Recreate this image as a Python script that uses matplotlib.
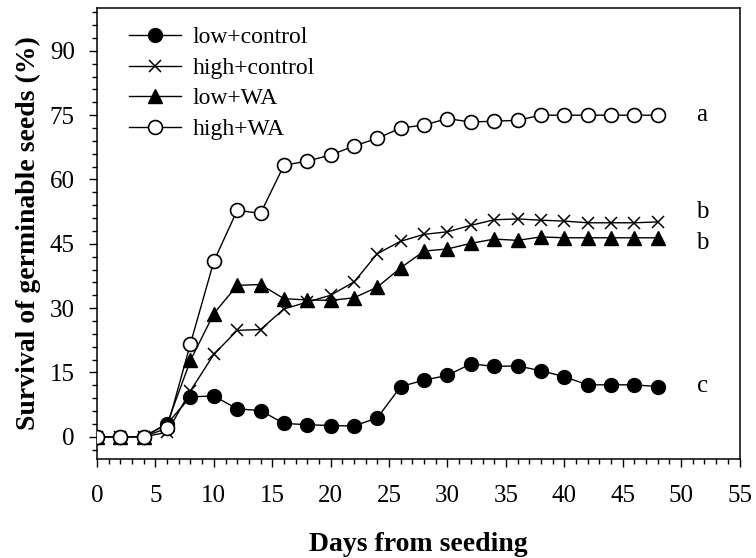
import matplotlib
matplotlib.use("Agg")
import matplotlib.pyplot as plt
from matplotlib.ticker import MultipleLocator

plt.rcParams['font.family'] = ['Liberation Serif', 'DejaVu Serif']

days = [0, 2, 4, 6, 8, 10, 12, 14, 16, 18, 20, 22, 24, 26, 28, 30, 32, 34, 36, 38, 40, 42, 44, 46, 48]

low_control = [0, 0, 0, 3.0, 9.3, 9.5, 6.5, 6.1, 3.1, 2.8, 2.6, 2.5, 4.4, 11.7, 13.2, 14.3,
               17.0, 16.4, 16.5, 15.4, 14.0, 12.1, 12.1, 12.1, 11.7]
high_control = [0, 0, 0, 1.0, 10.7, 19.2, 24.8, 25.0, 29.8, 31.4, 33.0, 36.1, 42.7, 45.6, 47.2, 47.8,
                49.3, 50.6, 50.8, 50.5, 50.3, 49.9, 49.9, 49.9, 50.1]
low_wa = [0, 0, 0, 3.0, 17.8, 28.7, 35.3, 35.5, 32.2, 31.9, 31.8, 32.4, 34.9, 39.4, 43.3, 43.8,
          45.1, 46.1, 45.8, 46.6, 46.4, 46.4, 46.4, 46.4, 46.4]
high_wa = [0, 0, 0, 2.0, 21.7, 40.9, 52.8, 52.1, 63.3, 64.3, 65.7, 67.8, 69.6, 72.0, 72.7, 74.2,
           73.4, 73.6, 73.8, 75.0, 75.0, 75.0, 75.0, 75.0, 75.0]

series_labels = ['low+control', 'high+control', 'low+WA', 'high+WA']
sig_letters = ['c', 'b', 'b', 'a']
sig_y = [11.9, 45.1, 52.4, 75.0]
sig_x = 51.8

fig = plt.figure(figsize=(7.56, 5.58), dpi=100)
ax = fig.add_axes([97/756, (558-459)/558, (739.5-97)/756, (459-8)/558])

lw = 1.0
ax.plot(days, low_control, color='black', lw=lw, marker='o', ms=10,
        mfc='black', mec='black', label=series_labels[0], zorder=3)
ax.plot(days, high_control, color='black', lw=lw, marker='x', ms=8.5, mew=1.1,
        label=series_labels[1], zorder=3)
ax.plot(days, low_wa, color='black', lw=lw, marker='^', ms=10,
        mfc='black', mec='black', label=series_labels[2], zorder=3)
ax.plot(days, high_wa, color='black', lw=lw, marker='o', ms=10,
        mfc='white', mec='black', mew=1.2, label=series_labels[3], zorder=4)

for letter, yv in zip(sig_letters, sig_y):
    ax.text(sig_x, yv, letter, fontsize=18, ha='center', va='center')

ax.set_xlim(0, 55)
ax.set_ylim(-5.2, 100)
ax.xaxis.set_major_locator(MultipleLocator(5))
ax.xaxis.set_minor_locator(MultipleLocator(1))
ax.yaxis.set_major_locator(MultipleLocator(15))
ax.yaxis.set_minor_locator(MultipleLocator(3))
ax.set_yticks([0, 15, 30, 45, 60, 75, 90])

ax.tick_params(which='major', direction='out', length=6, width=1.0, labelsize=18, pad=10)
ax.tick_params(axis='x', which='major', pad=13)
ax.tick_params(which='minor', direction='out', length=3.5, width=1.0)
ax.tick_params(top=False, right=False, which='both')
for s in ax.spines.values():
    s.set_linewidth(1.1)

ax.set_xlabel('Days from seeding', fontsize=20, fontweight='bold', labelpad=18)
ax.set_ylabel('Survival of germinable seeds (%)', fontsize=20, fontweight='bold', labelpad=6)

leg = ax.legend(loc='upper left', bbox_to_anchor=(0.02, 1.0), frameon=False, fontsize=17,
                numpoints=1, handlelength=2.2, handletextpad=0.5, labelspacing=0.38,
                borderaxespad=0.4)

fig.savefig('out.png', dpi=100)
